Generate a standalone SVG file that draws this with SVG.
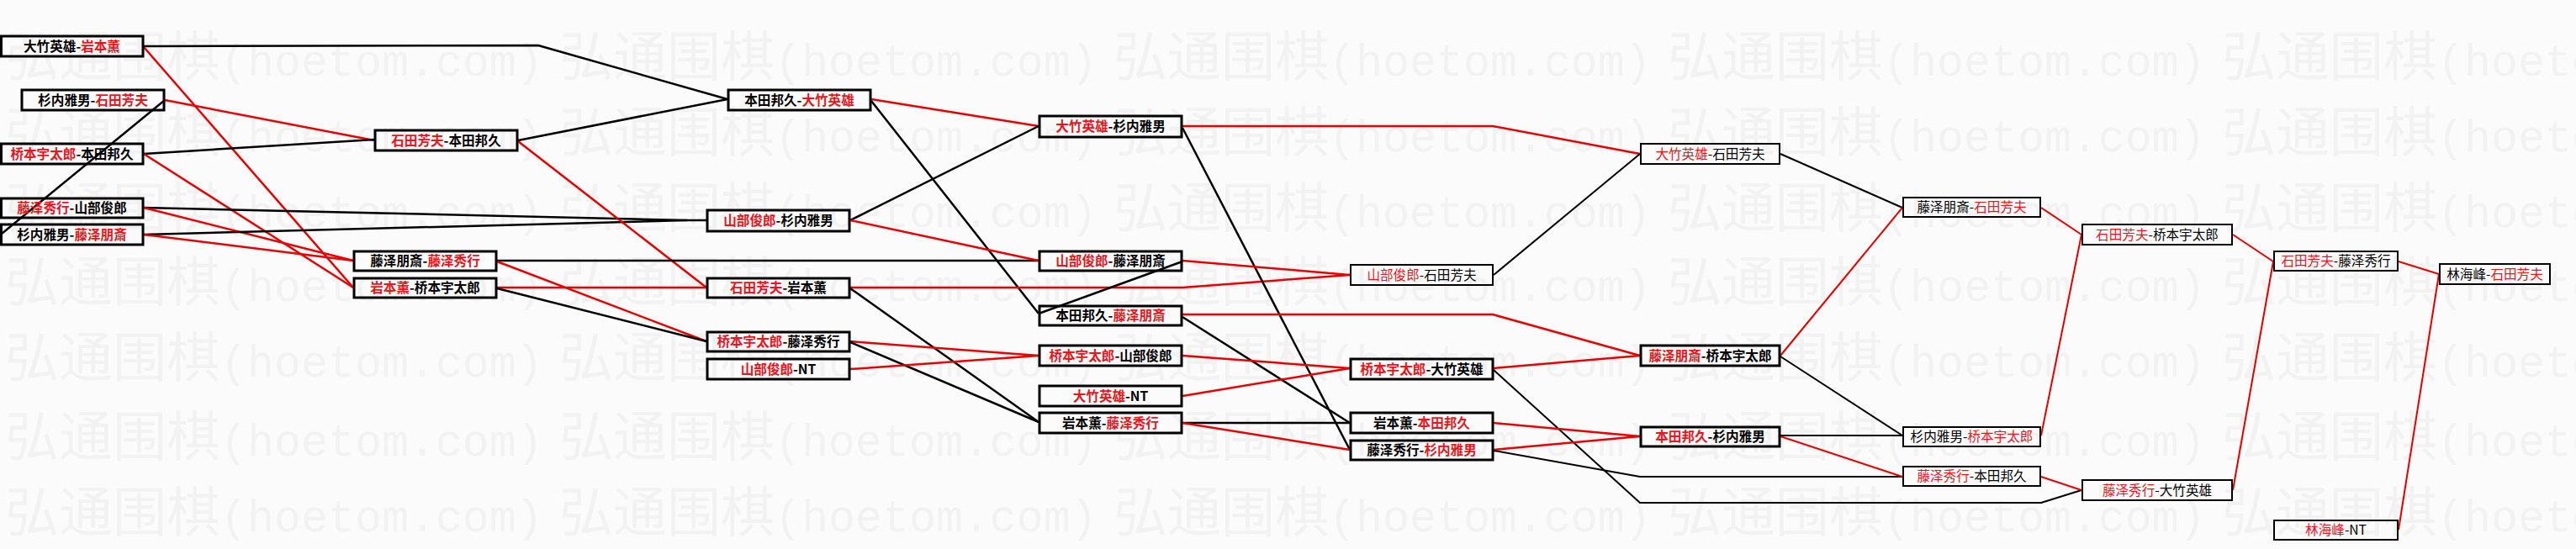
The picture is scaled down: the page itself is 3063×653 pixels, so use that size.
<svg xmlns="http://www.w3.org/2000/svg" xmlns:xlink="http://www.w3.org/1999/xlink" width="3063" height="653" viewBox="0 0 3063 653">
<style>
.bg{fill:#fbfbfb}
.wc{font-family:"Noto Sans CJK SC",sans-serif;font-size:64px;fill:#f2f2f2}
.wl{font-family:"Liberation Mono",monospace;font-size:53.3px;fill:#f2f2f2}
.bk{fill:none;stroke:#000;stroke-width:3}
.bn{fill:none;stroke:#000;stroke-width:2}
.t{font-family:"Noto Sans CJK SC","Liberation Sans",sans-serif;font-size:15.6px;fill:#000;text-anchor:middle}
.tb{font-weight:bold}
.r{fill:#e8141e}
.ck{fill:none;stroke:#000;stroke-width:2.5;stroke-linejoin:round}
.cr{fill:none;stroke:#e60000;stroke-width:2.5;stroke-linejoin:round}
.w2{stroke-width:2}
</style>
<defs>
<g id="wm"><text class="wc" x="0" y="0">弘通围棋</text><text class="wl" x="256" y="0">(hoetom.com)</text></g>
</defs>
<rect class="bg" x="0" y="0" width="3063" height="653"/>
<g id="watermark">
<use xlink:href="#wm" x="6" y="90"/><use xlink:href="#wm" x="665" y="90"/><use xlink:href="#wm" x="1324" y="90"/><use xlink:href="#wm" x="1983" y="90"/><use xlink:href="#wm" x="2642" y="90"/>
<use xlink:href="#wm" x="6" y="180"/><use xlink:href="#wm" x="665" y="180"/><use xlink:href="#wm" x="1324" y="180"/><use xlink:href="#wm" x="1983" y="180"/><use xlink:href="#wm" x="2642" y="180"/>
<use xlink:href="#wm" x="6" y="270"/><use xlink:href="#wm" x="665" y="270"/><use xlink:href="#wm" x="1324" y="270"/><use xlink:href="#wm" x="1983" y="270"/><use xlink:href="#wm" x="2642" y="270"/>
<use xlink:href="#wm" x="6" y="358"/><use xlink:href="#wm" x="665" y="358"/><use xlink:href="#wm" x="1324" y="358"/><use xlink:href="#wm" x="1983" y="358"/><use xlink:href="#wm" x="2642" y="358"/>
<use xlink:href="#wm" x="6" y="448"/><use xlink:href="#wm" x="665" y="448"/><use xlink:href="#wm" x="1324" y="448"/><use xlink:href="#wm" x="1983" y="448"/><use xlink:href="#wm" x="2642" y="448"/>
<use xlink:href="#wm" x="6" y="542"/><use xlink:href="#wm" x="665" y="542"/><use xlink:href="#wm" x="1324" y="542"/><use xlink:href="#wm" x="1983" y="542"/><use xlink:href="#wm" x="2642" y="542"/>
<use xlink:href="#wm" x="6" y="632"/><use xlink:href="#wm" x="665" y="632"/><use xlink:href="#wm" x="1324" y="632"/><use xlink:href="#wm" x="1983" y="632"/><use xlink:href="#wm" x="2642" y="632"/>
</g>
<g id="connectors">
<polyline class="ck" points="171,55 640,54 865,118"/>
<line class="cr" x1="171" y1="56" x2="420" y2="342"/>
<line class="cr" x1="196" y1="119" x2="445" y2="167"/>
<line class="ck" x1="196" y1="119" x2="2" y2="278"/>
<line class="ck" x1="171" y1="183" x2="445" y2="166"/>
<line class="cr" x1="171" y1="183" x2="420" y2="342"/>
<polyline class="ck" points="171,247 817,262 840,262"/>
<line class="cr" x1="171" y1="247" x2="420" y2="310"/>
<line class="ck" x1="171" y1="279" x2="817" y2="262"/>
<line class="cr" x1="171" y1="279" x2="420" y2="310"/>
<line class="ck" x1="616" y1="167" x2="865" y2="118"/>
<line class="cr" x1="616" y1="168" x2="840" y2="342"/>
<line class="ck" x1="591" y1="310" x2="1235" y2="310"/>
<line class="cr" x1="591" y1="311" x2="840" y2="406"/>
<line class="cr" x1="591" y1="342" x2="840" y2="342"/>
<line class="ck" x1="591" y1="343" x2="840" y2="406"/>
<line class="cr" x1="1036" y1="118" x2="1235" y2="150"/>
<line class="ck" x1="1036" y1="120" x2="1235" y2="373"/>
<line class="ck" x1="1011" y1="262" x2="1235" y2="150"/>
<line class="cr" x1="1011" y1="262" x2="1235" y2="310"/>
<polyline class="cr" points="1011,342 1406,342 1605,327"/>
<line class="ck" x1="1011" y1="343" x2="1235" y2="502"/>
<line class="cr" x1="1011" y1="406" x2="1235" y2="423"/>
<line class="ck" x1="1011" y1="407" x2="1235" y2="502"/>
<line class="cr" x1="1011" y1="439" x2="1235" y2="423"/>
<polyline class="cr" points="1406,150 1775,150 1950,183"/>
<line class="ck" x1="1406" y1="152" x2="1605" y2="535"/>
<line class="cr" x1="1406" y1="310" x2="1605" y2="327"/>
<line class="ck" x1="1406" y1="311" x2="1235" y2="373"/>
<polyline class="cr" points="1406,374 1775,374 1950,423"/>
<line class="ck" x1="1406" y1="377" x2="1605" y2="503"/>
<line class="cr" x1="1406" y1="423" x2="1605" y2="438"/>
<line class="cr" x1="1406" y1="471" x2="1605" y2="438"/>
<line class="ck" x1="1406" y1="503" x2="1605" y2="503"/>
<line class="cr" x1="1406" y1="503" x2="1605" y2="535"/>
<line class="ck w2" x1="1776" y1="327" x2="1950" y2="183"/>
<line class="cr" x1="1776" y1="438" x2="1950" y2="423"/>
<polyline class="ck w2" points="1776,440 1950,598 2427,598 2475,583"/>
<line class="cr" x1="1776" y1="503" x2="1950" y2="519"/>
<line class="cr" x1="1776" y1="535" x2="1950" y2="519"/>
<polyline class="ck w2" points="1776,536 1950,567 2262,567"/>
<line class="ck w2" x1="2117" y1="183" x2="2262" y2="247"/>
<line class="cr w2" x1="2117" y1="423" x2="2262" y2="247"/>
<line class="ck w2" x1="2117" y1="424" x2="2262" y2="518"/>
<line class="ck w2" x1="2117" y1="518" x2="2262" y2="518"/>
<line class="cr w2" x1="2117" y1="519" x2="2262" y2="567"/>
<line class="cr w2" x1="2427" y1="247" x2="2475" y2="279"/>
<line class="cr w2" x1="2427" y1="518" x2="2475" y2="279"/>
<line class="cr w2" x1="2427" y1="567" x2="2475" y2="583"/>
<line class="cr w2" x1="2655" y1="279" x2="2703" y2="311"/>
<line class="cr w2" x1="2655" y1="583" x2="2703" y2="311"/>
<line class="cr w2" x1="2852" y1="311" x2="2900" y2="326"/>
<line class="cr w2" x1="2852" y1="630" x2="2900" y2="326"/>
</g>
<g id="n-A"><rect class="bk" x="1.5" y="43" width="168.5" height="24"/><text class="t tb" x="85.5" y="60.5">大竹英雄-<tspan class="r">岩本薫</tspan></text></g>
<g id="n-B"><rect class="bk" x="26" y="107" width="169" height="24"/><text class="t tb" x="110.5" y="124.5">杉内雅男-<tspan class="r">石田芳夫</tspan></text></g>
<g id="n-C"><rect class="bk" x="1.5" y="171" width="168.5" height="24"/><text class="t tb" x="85.5" y="188.5"><tspan class="r">桥本宇太郎</tspan>-本田邦久</text></g>
<g id="n-D"><rect class="bk" x="1.5" y="236" width="168.5" height="23"/><text class="t tb" x="85.5" y="253"><tspan class="r">藤泽秀行</tspan>-山部俊郎</text></g>
<g id="n-E"><rect class="bk" x="1.5" y="267" width="168.5" height="24"/><text class="t tb" x="85.5" y="284.5">杉内雅男-<tspan class="r">藤泽朋斎</tspan></text></g>
<g id="n-H"><rect class="bk" x="446" y="155" width="169" height="24"/><text class="t tb" x="530.5" y="172.5"><tspan class="r">石田芳夫</tspan>-本田邦久</text></g>
<g id="n-G"><rect class="bk" x="421" y="299" width="169" height="23"/><text class="t tb" x="505.5" y="316">藤泽朋斎-<tspan class="r">藤泽秀行</tspan></text></g>
<g id="n-F"><rect class="bk" x="421" y="331" width="169" height="23"/><text class="t tb" x="505.5" y="348"><tspan class="r">岩本薫</tspan>-桥本宇太郎</text></g>
<g id="n-I"><rect class="bk" x="866" y="107" width="169" height="24"/><text class="t tb" x="950.5" y="124.5">本田邦久-<tspan class="r">大竹英雄</tspan></text></g>
<g id="n-J"><rect class="bk" x="841" y="250" width="169" height="25"/><text class="t tb" x="925.5" y="268"><tspan class="r">山部俊郎</tspan>-杉内雅男</text></g>
<g id="n-K"><rect class="bk" x="841" y="331" width="169" height="23"/><text class="t tb" x="925.5" y="348"><tspan class="r">石田芳夫</tspan>-岩本薫</text></g>
<g id="n-L"><rect class="bk" x="841" y="395" width="169" height="23"/><text class="t tb" x="925.5" y="412"><tspan class="r">桥本宇太郎</tspan>-藤泽秀行</text></g>
<g id="n-M"><rect class="bk" x="841" y="427" width="169" height="24"/><text class="t tb" x="925.5" y="444.5"><tspan class="r">山部俊郎</tspan>-NT</text></g>
<g id="n-N"><rect class="bk" x="1236" y="138" width="169" height="25"/><text class="t tb" x="1320.5" y="156"><tspan class="r">大竹英雄</tspan>-杉内雅男</text></g>
<g id="n-P"><rect class="bk" x="1236" y="299" width="169" height="23"/><text class="t tb" x="1320.5" y="316"><tspan class="r">山部俊郎</tspan>-藤泽朋斎</text></g>
<g id="n-O"><rect class="bk" x="1236" y="364" width="169" height="23"/><text class="t tb" x="1320.5" y="381">本田邦久-<tspan class="r">藤泽朋斎</tspan></text></g>
<g id="n-S"><rect class="bk" x="1236" y="411" width="169" height="24"/><text class="t tb" x="1320.5" y="428.5"><tspan class="r">桥本宇太郎</tspan>-山部俊郎</text></g>
<g id="n-T"><rect class="bk" x="1236" y="459" width="169" height="24"/><text class="t tb" x="1320.5" y="476.5"><tspan class="r">大竹英雄</tspan>-NT</text></g>
<g id="n-R"><rect class="bk" x="1236" y="491" width="169" height="24"/><text class="t tb" x="1320.5" y="508.5">岩本薫-<tspan class="r">藤泽秀行</tspan></text></g>
<g id="n-Q"><rect class="bn" x="1606" y="315" width="169" height="24"/><text class="t" x="1690.5" y="332.5"><tspan class="r">山部俊郎</tspan>-石田芳夫</text></g>
<g id="n-Y"><rect class="bk" x="1606" y="427" width="169" height="24"/><text class="t tb" x="1690.5" y="444.5"><tspan class="r">桥本宇太郎</tspan>-大竹英雄</text></g>
<g id="n-X"><rect class="bk" x="1606" y="491" width="169" height="24"/><text class="t tb" x="1690.5" y="508.5">岩本薫-<tspan class="r">本田邦久</tspan></text></g>
<g id="n-V"><rect class="bk" x="1606" y="524" width="169" height="23"/><text class="t tb" x="1690.5" y="541">藤泽秀行-<tspan class="r">杉内雅男</tspan></text></g>
<g id="n-U"><rect class="bn" x="1951" y="171" width="165" height="24"/><text class="t" x="2033.5" y="188.5"><tspan class="r">大竹英雄</tspan>-石田芳夫</text></g>
<g id="n-W"><rect class="bk" x="1951" y="411" width="165" height="24"/><text class="t tb" x="2033.5" y="428.5"><tspan class="r">藤泽朋斎</tspan>-桥本宇太郎</text></g>
<g id="n-AA"><rect class="bk" x="1951" y="508" width="165" height="23"/><text class="t tb" x="2033.5" y="525"><tspan class="r">本田邦久</tspan>-杉内雅男</text></g>
<g id="n-CC"><rect class="bn" x="2263" y="235" width="163" height="23"/><text class="t" x="2344.5" y="252">藤泽朋斎-<tspan class="r">石田芳夫</tspan></text></g>
<g id="n-DD"><rect class="bn" x="2263" y="508" width="163" height="23"/><text class="t" x="2344.5" y="525">杉内雅男-<tspan class="r">桥本宇太郎</tspan></text></g>
<g id="n-BB"><rect class="bn" x="2263" y="555" width="163" height="23"/><text class="t" x="2344.5" y="572"><tspan class="r">藤泽秀行</tspan>-本田邦久</text></g>
<g id="n-EE"><rect class="bn" x="2476" y="267" width="178" height="24"/><text class="t" x="2565" y="284.5"><tspan class="r">石田芳夫</tspan>-桥本宇太郎</text></g>
<g id="n-Z"><rect class="bn" x="2476" y="571" width="178" height="24"/><text class="t" x="2565" y="588.5"><tspan class="r">藤泽秀行</tspan>-大竹英雄</text></g>
<g id="n-FF"><rect class="bn" x="2704" y="299" width="147" height="23"/><text class="t" x="2777.5" y="316"><tspan class="r">石田芳夫</tspan>-藤泽秀行</text></g>
<g id="n-GG"><rect class="bn" x="2704" y="619" width="147" height="23"/><text class="t" x="2777.5" y="636"><tspan class="r">林海峰</tspan>-NT</text></g>
<g id="n-HH"><rect class="bn" x="2901" y="314" width="131" height="24"/><text class="t" x="2966.5" y="331.5">林海峰-<tspan class="r">石田芳夫</tspan></text></g>
</svg>
